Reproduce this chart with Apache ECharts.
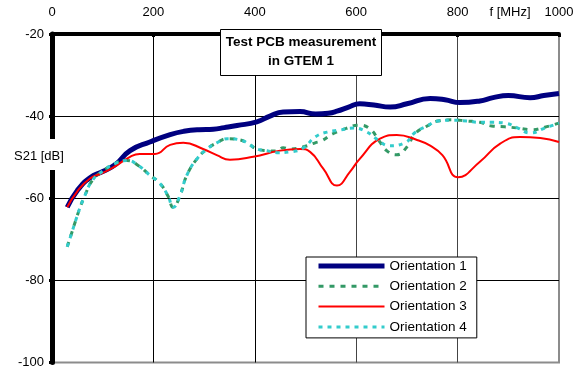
<!DOCTYPE html>
<html>
<head>
<meta charset="utf-8">
<script src="https://cdn.jsdelivr.net/npm/echarts@6/dist/echarts.min.js"></script>
<style>html,body{margin:0;padding:0;background:#fff;}#c{width:580px;height:369px;}</style>
</head>
<body>
<div id="c"></div>
<script>
var FONT = "'Liberation Sans', Arial, sans-serif";
var seriesNames = ['Orientation 1', 'Orientation 2', 'Orientation 3', 'Orientation 4'];
var xTicks = [0, 200, 400, 600, 800, 1000];
var yTicks = [-100, -80, -60, -40, -20];

var freq1 = [30, 50, 75, 100, 125, 154, 193, 233, 260, 290, 318, 340, 365, 404, 430, 456, 489, 520, 545, 562, 585, 607, 635, 667, 700, 746, 775, 805, 844, 870, 900, 943, 970, 1000];
var vals1 = [-62.2, -58.1, -55.0, -53.5, -51.8, -48.4, -46.3, -44.5, -43.7, -43.3, -43.2, -42.8, -42.3, -41.4, -40.0, -39.0, -38.9, -39.5, -39.3, -38.8, -37.8, -37.0, -37.3, -37.8, -37.0, -35.7, -36.0, -36.7, -36.3, -35.5, -35.0, -35.5, -35.0, -34.5];

var freq2 = [30, 39, 47, 55, 65, 80, 101, 125, 148, 170, 193, 213, 229, 239, 252, 266, 286, 306, 325, 347, 371, 387, 404, 424, 444, 456, 469, 495, 519, 532, 554, 580, 604, 627, 645, 660, 680, 700, 716, 740, 761, 789, 818, 844, 867, 893, 919, 947, 972, 1000];
var vals2 = [-71.8, -68.4, -65.3, -62.4, -59.3, -55.6, -53.3, -51.5, -50.8, -52.0, -54.4, -56.4, -59.5, -62.2, -59.5, -54.4, -50.4, -48.0, -46.5, -45.5, -45.8, -46.7, -48.0, -48.4, -48.5, -47.7, -48.0, -47.5, -46.5, -46.0, -44.3, -43.0, -42.2, -43.1, -46.0, -48.4, -49.4, -47.5, -44.3, -42.4, -41.2, -40.9, -41.2, -41.5, -42.4, -42.6, -42.9, -43.3, -42.7, -41.7];

var freq3 = [30, 50, 75, 100, 121, 154, 173, 203, 233, 259, 298, 325, 351, 397, 450, 489, 509, 535, 562, 588, 607, 647, 680, 720, 746, 770, 801, 844, 884, 923, 963, 1000];
var vals3 = [-62.2, -58.3, -55.2, -53.8, -52.5, -49.9, -49.2, -49.2, -47.0, -46.5, -48.0, -49.5, -50.6, -49.9, -48.4, -48.0, -48.7, -52.8, -56.9, -53.5, -50.4, -45.5, -44.6, -45.8, -47.2, -49.5, -54.9, -51.1, -46.7, -45.1, -45.3, -46.3];

var freq4 = [30, 39, 47, 55, 65, 80, 101, 125, 148, 170, 193, 213, 229, 239, 252, 266, 286, 306, 325, 347, 371, 387, 404, 424, 444, 469, 495, 519, 542, 568, 594, 620, 643, 665, 696, 716, 740, 761, 789, 818, 844, 867, 893, 919, 943, 972, 1000];
var vals4 = [-71.8, -68.4, -65.3, -62.4, -59.3, -55.6, -53.3, -51.5, -50.8, -52.0, -54.4, -56.4, -59.5, -62.2, -59.5, -54.4, -50.4, -48.0, -46.5, -45.5, -45.8, -46.7, -48.0, -48.4, -48.9, -48.7, -47.8, -45.1, -43.9, -43.4, -42.9, -43.8, -45.8, -47.2, -46.5, -44.0, -42.4, -41.2, -41.0, -41.2, -41.5, -41.5, -41.7, -42.9, -44.1, -42.9, -41.7];

function pairs(f, v) { return f.map(function (x, i) { return [x, v[i]]; }); }

var colors = ['#000080', '#339966', '#ff0000', '#33cccc'];
var widths = [5, 3, 2, 3];
var dashes = ['solid', [5, 6], 'solid', [4, 5]];

var chart = echarts.init(document.getElementById('c'), null, { renderer: 'canvas' });
chart.setOption({
  animation: false,
  backgroundColor: '#fff',
  textStyle: { fontFamily: FONT },
  grid: { left: 52, top: 34, width: 507, height: 332, show: true, borderColor: '#8c8c8c', borderWidth: 2, backgroundColor: 'transparent' },
  xAxis: {
    type: 'value', position: 'top', min: xTicks[0], max: xTicks[xTicks.length - 1], interval: 200,
    axisLine: { show: true, onZero: false, lineStyle: { color: '#000', width: 4 } },
    axisTick: { show: true, inside: true, length: 3, lineStyle: { color: '#000', width: 3 } },
    axisLabel: { color: '#000', fontSize: 13, fontFamily: FONT, margin: 15, formatter: function (v) { return String(v); } },
    splitLine: { show: true, lineStyle: { color: ['#000', '#000', '#000', '#444', '#444', '#8c8c8c'], width: 1 } }
  },
  yAxis: {
    type: 'value', min: yTicks[0], max: yTicks[yTicks.length - 1], interval: 20,
    axisLine: { show: true, onZero: false, lineStyle: { color: '#000', width: 5 } },
    axisTick: { show: true, length: 3, lineStyle: { color: '#000', width: 3 } },
    axisLabel: { color: '#000', fontSize: 13, fontFamily: FONT, margin: 8, formatter: function (v) { return String(v); } },
    splitLine: { show: true, lineStyle: { color: ['#8c8c8c', '#000', '#000', '#000', '#000'], width: 1 } }
  },
  legend: {
    orient: 'vertical', left: 306, top: 257,
    itemWidth: 66, itemHeight: 14, itemGap: 6.3,
    padding: [2, 10, 4, 10],
    borderColor: '#000', borderWidth: 1, backgroundColor: '#fff',
    textStyle: { color: '#000', fontSize: 13.5, fontFamily: FONT },
    itemStyle: { opacity: 0 },
    data: seriesNames.map(function (n, i) {
      return { name: n, itemStyle: { opacity: 0 }, lineStyle: { color: colors[i], width: widths[i], type: dashes[i] } };
    }),
    z: 20
  },
  series: seriesNames.map(function (n, i) {
    var d = [pairs(freq1, vals1), pairs(freq2, vals2), pairs(freq3, vals3), pairs(freq4, vals4)][i];
    return { name: n, type: 'line', smooth: 0.5, symbol: 'none', data: d,
      lineStyle: { color: colors[i], width: widths[i], type: dashes[i] }, itemStyle: { color: colors[i] }, z: 3 + i };
  }),
  graphic: [
    { type: 'rect', z: 100, shape: { x: 220.5, y: 29.5, width: 161, height: 46 },
      style: { fill: '#fff', stroke: '#000', lineWidth: 1 } },
    { type: 'text', z: 101, x: 301, y: 42,
      style: { text: 'Test PCB measurement', fontSize: 13.5, fontWeight: 'bold', fontFamily: FONT, fill: '#000', align: 'center', verticalAlign: 'middle' } },
    { type: 'text', z: 101, x: 301, y: 61,
      style: { text: 'in GTEM 1', fontSize: 13.5, fontWeight: 'bold', fontFamily: FONT, fill: '#000', align: 'center', verticalAlign: 'middle' } },
    { type: 'rect', z: 100, shape: { x: 12, y: 139, width: 56, height: 31 }, style: { fill: '#fff' } },
    { type: 'text', z: 101, x: 14, y: 156,
      style: { text: 'S21 [dB]', fontSize: 13, fontFamily: FONT, fill: '#000', align: 'left', verticalAlign: 'middle' } },
    { type: 'text', z: 101, x: 510, y: 12,
      style: { text: 'f [MHz]', fontSize: 13, fontFamily: FONT, fill: '#000', align: 'center', verticalAlign: 'middle' } }
  ]
});
</script>
</body>
</html>
